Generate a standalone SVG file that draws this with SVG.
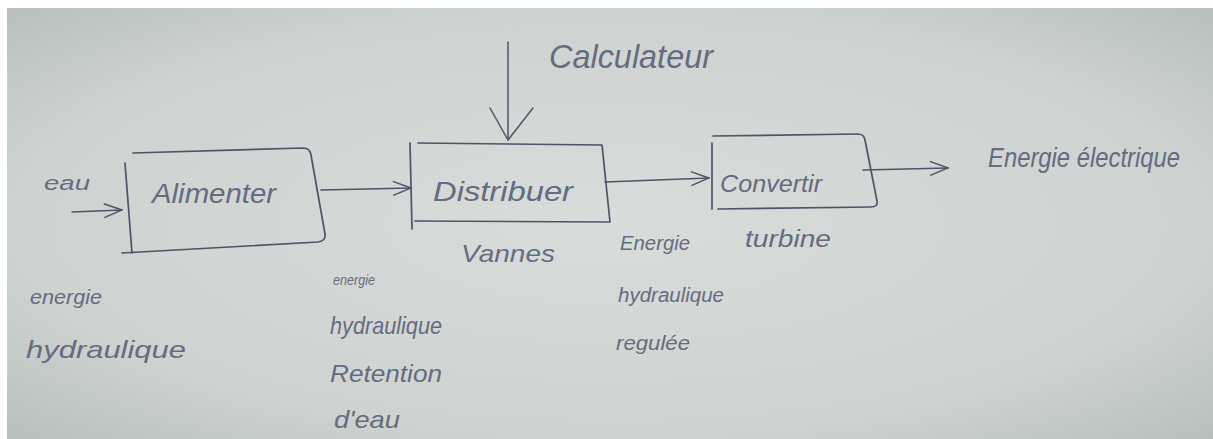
<svg xmlns="http://www.w3.org/2000/svg" width="1213" height="439" viewBox="0 0 1213 439">
<defs>
<radialGradient id="paper" cx="0.5" cy="0.5" r="0.75">
<stop offset="0" stop-color="#d8dcda"/>
<stop offset="0.65" stop-color="#ced3d1"/>
<stop offset="1" stop-color="#b3bbb7"/>
</radialGradient>
<marker id="open" viewBox="0 0 20 16" refX="19" refY="8" markerWidth="20" markerHeight="16" markerUnits="userSpaceOnUse" orient="auto">
<path d="M1,1 L19,8 L1,15" fill="none" stroke="#4e5369" stroke-width="1.4"/>
</marker>
</defs>
<style>
.ink{fill:none;stroke:#4e5369;stroke-width:1.7;stroke-linecap:round;stroke-linejoin:round}
.wire{fill:none;stroke:#4e5369;stroke-width:1.5;stroke-linecap:round}
.lbl{font-family:"Liberation Sans","DejaVu Sans",sans-serif;font-style:italic;fill:#656b80}
.big{font-size:28px}
.mid{font-size:24px}
.sm{font-size:20px}
</style>
<rect width="1213" height="439" fill="#ffffff"/>
<rect x="7" y="8" width="1206" height="431" fill="url(#paper)"/>
<g id="connectors">
<path class="wire" d="M72,212 L122,210" marker-end="url(#open)"/>
<path class="wire" d="M321,190 L411,188" marker-end="url(#open)"/>
<path class="wire" d="M508,42 L508,140"/>
<path class="wire" d="M490,108 L508,140 L533,108"/>
<path class="wire" d="M605,182 L709,178" marker-end="url(#open)"/>
<path class="wire" d="M863,170 L948,168" marker-end="url(#open)"/>
</g>
<g id="alimenter">
<path class="ink" d="M125,163 L132,253"/>
<path class="ink" d="M133,153 L303,148 Q310,148 311,155 L325,234 Q326,241 318,242 L122,253"/>
<text class="lbl big" x="152" y="203" textLength="124" lengthAdjust="spacingAndGlyphs">Alimenter</text>
</g>
<g id="distribuer">
<path class="ink" d="M410,143 L412,229"/>
<path class="ink" d="M418,143 L602,145 L610,222 L415,221"/>
<text class="lbl big" x="433" y="201" textLength="140" lengthAdjust="spacingAndGlyphs">Distribuer</text>
</g>
<g id="convertir">
<path class="ink" d="M712,143 L712,209"/>
<path class="ink" d="M713,136 L858,134 Q864,134 865,140 L877,201 Q878,207 871,207 L718,209"/>
<text class="lbl mid" x="720" y="192" textLength="102" lengthAdjust="spacingAndGlyphs">Convertir</text>
</g>
<g id="eau"><text class="lbl sm" x="44" y="190" textLength="46" lengthAdjust="spacingAndGlyphs">eau</text></g>
<g id="calculateur"><text class="lbl" font-size="34" x="549" y="68" textLength="164" lengthAdjust="spacingAndGlyphs">Calculateur</text></g>
<g id="energie-electrique"><text class="lbl big" x="988" y="167" textLength="192" lengthAdjust="spacingAndGlyphs">Energie électrique</text></g>
<g id="vannes"><text class="lbl mid" x="461" y="262" textLength="94" lengthAdjust="spacingAndGlyphs">Vannes</text></g>
<g id="turbine"><text class="lbl mid" x="745" y="247" textLength="86" lengthAdjust="spacingAndGlyphs">turbine</text></g>
<g id="energie-hydraulique-regulee">
<text class="lbl sm" x="620" y="250" textLength="70" lengthAdjust="spacingAndGlyphs">Energie</text>
<text class="lbl sm" x="618" y="302" textLength="106" lengthAdjust="spacingAndGlyphs">hydraulique</text>
<text class="lbl sm" x="616" y="350" textLength="74" lengthAdjust="spacingAndGlyphs">regulée</text>
</g>
<g id="energie-hydraulique-entree">
<text class="lbl sm" x="30" y="304" textLength="72" lengthAdjust="spacingAndGlyphs">energie</text>
<text class="lbl mid" x="26" y="358" textLength="160" lengthAdjust="spacingAndGlyphs">hydraulique</text>
</g>
<g id="energie-hydraulique-retention">
<text class="lbl" font-size="15" x="333" y="285" textLength="42" lengthAdjust="spacingAndGlyphs">energie</text>
<text class="lbl mid" x="330" y="334" textLength="112" lengthAdjust="spacingAndGlyphs">hydraulique</text>
<text class="lbl mid" x="330" y="382" textLength="112" lengthAdjust="spacingAndGlyphs">Retention</text>
<text class="lbl mid" x="334" y="428" textLength="66" lengthAdjust="spacingAndGlyphs">d'eau</text>
</g>
</svg>
